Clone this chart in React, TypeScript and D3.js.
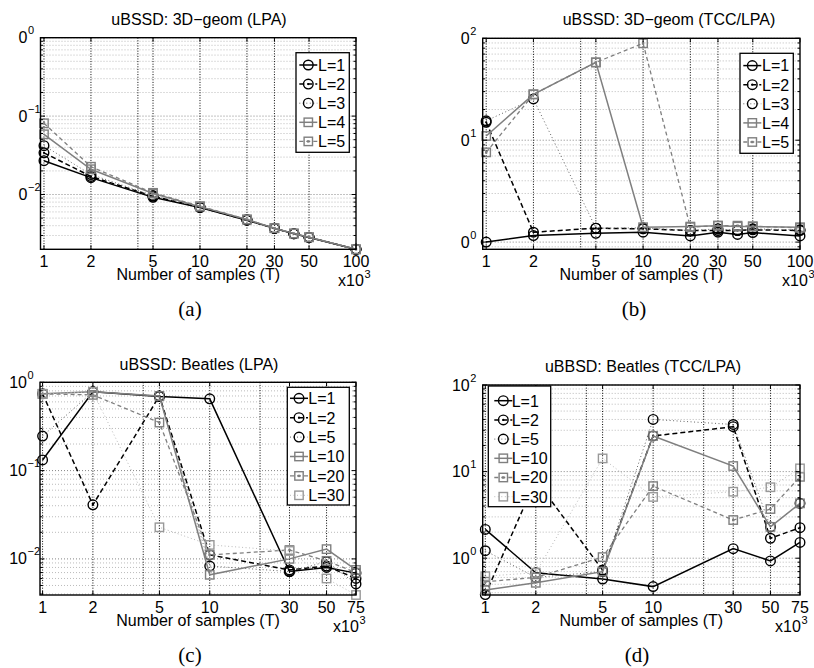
import * as d3 from 'd3';

// number of samples, in thousands
const geomSamples = [1, 2, 5, 10, 20, 30, 40, 50, 100];
const beatlesSamples = [1, 2, 5, 10, 30, 50, 75];

const geomSeries = ['L=1', 'L=2', 'L=3', 'L=4', 'L=5'];
const beatlesSeries = ['L=1', 'L=2', 'L=5', 'L=10', 'L=20', 'L=30'];

const geomTickLabels = [1, 2, 5, 10, 20, 30, 50, 100];
const beatlesTickLabels = [1, 2, 5, 10, 30, 50, 75];
const geomGridAt = [1, 2, 4, 5, 10, 20, 30, 50];
const beatlesGridAt = [1, 2, 4, 5, 10, 20, 30, 50];

// (a) uBSSD 3D-geom, LPA
const geomLpa = [
  [0.027, 0.0164, 0.0092, 0.0068, 0.0047, 0.0037, 0.00315, 0.00283, 0.002],
  [0.034, 0.017, 0.0095, 0.0069, 0.0047, 0.0037, 0.00316, 0.00284, 0.002],
  [0.042, 0.018, 0.0097, 0.0069, 0.0048, 0.0037, 0.00316, 0.00284, 0.002],
  [0.0586, 0.021, 0.0103, 0.007, 0.0048, 0.00372, 0.00318, 0.00285, 0.002],
  [0.081, 0.0226, 0.0105, 0.0071, 0.0048, 0.00372, 0.00318, 0.00285, 0.002],
];

// (b) uBSSD 3D-geom, TCC/LPA
const geomTcc = [
  [1.0, 1.16, 1.22, 1.25, 1.15, 1.25, 1.19, 1.24, 1.15],
  [15, 1.25, 1.37, 1.35, 1.3, 1.3, 1.3, 1.32, 1.3],
  [15.5, 25.4, 1.37, 1.38, 1.3, 1.35, 1.3, 1.35, 1.32],
  [11, 28.2, 58, 1.4, 1.42, 1.45, 1.42, 1.42, 1.4],
  [7.6, 28.2, 58, 89.3, 1.4, 1.45, 1.45, 1.43, 1.38],
];

// (c) uBSSD Beatles, LPA
const beatlesLpa = [
  [0.132, 0.78, 0.69, 0.65, 0.0072, 0.008, 0.0069],
  [0.74, 0.041, 0.7, 0.0111, 0.0075, 0.0083, 0.006],
  [0.246, 0.78, 0.7, 0.0083, 0.0072, 0.0093, 0.0052],
  [0.74, 0.78, 0.7, 0.0066, 0.01, 0.0129, 0.0075],
  [0.74, 0.72, 0.35, 0.0111, 0.0126, 0.0095, 0.007],
  [0.74, 0.78, 0.0228, 0.0144, 0.0123, 0.006, 0.0039],
];

// (d) uBBSD Beatles, TCC/LPA
const beatlesTcc = [
  [2.15, 0.68, 0.575, 0.47, 1.29, 0.93, 1.52],
  [0.38, 8, 0.73, 25.8, 33, 1.7, 2.25],
  [1.22, 0.6, 0.7, 40, 35, 2.3, 4.3],
  [0.43, 0.52, 0.7, 25.8, 11.6, 2.3, 4.3],
  [0.535, 0.6, 1.03, 6.8, 2.76, 3.7, 8.7],
  [0.62, 0.68, 14.2, 5.1, 5.86, 6.6, 10.9],
];

const GRAY = '#7f7f7f';
const sBlack = { color: '#000', dash: null, width: 1.5, marker: 'o', mColor: '#000' };
const sBlackDash = { color: '#000', dash: '5,3', width: 1.5, marker: 'od', mColor: '#000' };
const sBlackDot = { color: '#666', dash: '1,2.5', width: 1, marker: 'o', mColor: '#000' };
const sGray = { color: GRAY, dash: null, width: 1.5, marker: 's', mColor: GRAY };
const sGrayDash = { color: GRAY, dash: '4,3', width: 1.3, marker: 'sd', mColor: GRAY };
const sGrayDot = { color: '#bbb', dash: '1,2.5', width: 1, marker: 's', mColor: '#999' };

const geomStyles = [sBlack, sBlackDash, sBlackDot, sGray, sGrayDash];
const beatlesStyles = [sBlack, sBlackDash, sBlackDot, sGray, sGrayDash, sGrayDot];

const SANS = '"Liberation Sans", Arial, Helvetica, sans-serif';
const SERIF = '"Liberation Serif", "Times New Roman", serif';
const FS = 16;

function Marker({ kind, cx, cy, color }) {
  if (kind === 'o' || kind === 'od') {
    return (
      <g>
        <circle cx={cx} cy={cy} r={4.8} fill="none" stroke={color} strokeWidth={1.4} />
        {kind === 'od' && <circle cx={cx} cy={cy} r={1.1} fill={color} />}
      </g>
    );
  }
  return (
    <g>
      <rect x={cx - 4.2} y={cy - 4.2} width={8.4} height={8.4} fill="none" stroke={color} strokeWidth={1.4} />
      {kind === 'sd' && <rect x={cx - 1.2} y={cy - 1.2} width={2.4} height={2.4} fill={color} />}
    </g>
  );
}

function Panel(p) {
  const { frame, xDomain, yDomain, samples, values, names, styles } = p;
  const x = d3.scaleLog().domain(xDomain).range([frame.left, frame.right]);
  const y = d3.scaleLog().domain(yDomain).range([frame.bottom, frame.top]);
  const line = d3.line().x((d, i) => x(samples[i])).y(d => y(d));

  const eLo = Math.floor(Math.log10(yDomain[0]));
  const eHi = Math.floor(Math.log10(yDomain[1]) + 1e-9);
  const decades = d3.range(eLo, eHi + 1).map(e => Math.pow(10, e)).filter(v => v >= yDomain[0] * 0.999 && v <= yDomain[1] * 1.001);
  const minors = [];
  for (let e = eLo; e < eHi; e++) {
    for (let k = 2; k <= 9; k++) {
      const v = k * Math.pow(10, e);
      if (v > yDomain[0] && v < yDomain[1]) minors.push(v);
    }
  }
  const lg = p.legend;

  return (
    <g>
      <rect x={frame.left} y={frame.top} width={frame.right - frame.left} height={frame.bottom - frame.top} fill="#fff" />
      {minors.map(v => (
        <line key={'m' + v} x1={frame.left} x2={frame.right} y1={y(v)} y2={y(v)} stroke="#aaa" strokeWidth={0.8} strokeDasharray="1,2" />
      ))}
      {decades.map(v => (
        <line key={'d' + v} x1={frame.left} x2={frame.right} y1={y(v)} y2={y(v)} stroke="#777" strokeWidth={0.9} strokeDasharray="1,2" />
      ))}
      {p.gridAt.map(v => (
        <line key={'g' + v} x1={x(v)} x2={x(v)} y1={frame.top} y2={frame.bottom} stroke="#000" strokeWidth={1} strokeDasharray="1,1.6" />
      ))}

      {values.map((vals, si) => {
        const st = styles[si];
        return (
          <g key={'s' + si}>
            <path d={line(vals)} fill="none" stroke={st.color} strokeWidth={st.width} strokeDasharray={st.dash || undefined} />
            {vals.map((v, i) => (
              <Marker key={i} kind={st.marker} cx={x(samples[i])} cy={y(v)} color={st.mColor} />
            ))}
          </g>
        );
      })}

      <rect x={frame.left} y={frame.top} width={frame.right - frame.left} height={frame.bottom - frame.top} fill="none" stroke="#000" strokeWidth={1.4} />

      {p.tickLabels.map(v => (
        <g key={'xt' + v}>
          <line x1={x(v)} x2={x(v)} y1={frame.bottom} y2={frame.bottom - 4} stroke="#000" />
          <line x1={x(v)} x2={x(v)} y1={frame.top} y2={frame.top + 4} stroke="#000" />
          <text x={x(v)} y={frame.bottom + 17.5} textAnchor="middle" fontFamily={SANS} fontSize={FS}>{v}</text>
        </g>
      ))}
      {minors.map(v => (
        <g key={'yt' + v}>
          <line x1={frame.left} x2={frame.left + 2.5} y1={y(v)} y2={y(v)} stroke="#000" />
          <line x1={frame.right} x2={frame.right - 2.5} y1={y(v)} y2={y(v)} stroke="#000" />
        </g>
      ))}
      {decades.map(v => {
        const e = Math.round(Math.log10(v));
        return (
          <g key={'yl' + v}>
            <line x1={frame.left} x2={frame.left + 4.5} y1={y(v)} y2={y(v)} stroke="#000" />
            <line x1={frame.right} x2={frame.right - 4.5} y1={y(v)} y2={y(v)} stroke="#000" />
            <text x={frame.left - 13} y={y(v) + 5.5} textAnchor="end" fontFamily={SANS} fontSize={FS}>{p.yBase}</text>
            <text x={frame.left - 12.5} y={y(v) - 3.5} fontFamily={SANS} fontSize={11}>{e < 0 ? '\u2212' + -e : String(e)}</text>
          </g>
        );
      })}

      <text x={p.titleX} y={p.titleY} textAnchor="middle" fontFamily={SANS} fontSize={FS}>{p.title}</text>
      <text x={(frame.left + frame.right) / 2} y={frame.bottom + 31} textAnchor="middle" fontFamily={SANS} fontSize={FS}>Number of samples (T)</text>
      <text x={frame.right + p.expShift} y={frame.bottom + 37} fontFamily={SANS} fontSize={FS}>x10</text>
      <text x={frame.right + p.expShift + 26.5} y={frame.bottom + 29} fontFamily={SANS} fontSize={11}>3</text>
      <text x={p.captionX} y={frame.bottom + 67} textAnchor="middle" fontFamily={SERIF} fontSize={21}>{p.caption}</text>

      <g>
        <rect x={lg.x} y={lg.y} width={lg.w} height={lg.h} fill="#fff" stroke="#000" strokeWidth={1.3} />
        {names.map((n, i) => {
          const st = styles[i];
          const cy = lg.y + lg.first + i * lg.step;
          return (
            <g key={n}>
              <line x1={lg.x + lg.mx - 9} x2={lg.x + lg.mx + 9} y1={cy} y2={cy} stroke={st.color} strokeWidth={st.width} strokeDasharray={st.dash || undefined} />
              <Marker kind={st.marker} cx={lg.x + lg.mx} cy={cy} color={st.mColor} />
              <text x={lg.x + lg.tx} y={cy + 5.8} fontFamily={SANS} fontSize={FS}>{n}</text>
            </g>
          );
        })}
      </g>
    </g>
  );
}

export default function App() {
  return (
    <svg width={814} height={668} style={{ position: 'absolute', left: 0, top: 0, background: '#fff' }}>
      <Panel
        frame={{ left: 40.5, top: 37.7, right: 356, bottom: 249.3 }}
        xDomain={[0.95, 100]} yDomain={[0.002, 1]}
        samples={geomSamples} values={geomLpa} names={geomSeries} styles={geomStyles}
        tickLabels={geomTickLabels} gridAt={geomGridAt} yBase="0"
        title="uBSSD: 3D−geom (LPA)" titleX={199} titleY={24.5}
        caption="(a)" captionX={190} expShift={-18}
        legend={{ x: 296, y: 52.7, w: 53.3, h: 99.6, first: 12.3, step: 19.1, mx: 12.3, tx: 22 }}
      />
      <Panel
        frame={{ left: 482.7, top: 38.3, right: 800, bottom: 249.3 }}
        xDomain={[0.95, 100]} yDomain={[0.85, 100]}
        samples={geomSamples} values={geomTcc} names={geomSeries} styles={geomStyles}
        tickLabels={geomTickLabels} gridAt={geomGridAt} yBase="0"
        title="uBSSD: 3D−geom (TCC/LPA)" titleX={669} titleY={25}
        caption="(b)" captionX={634} expShift={-18}
        legend={{ x: 740, y: 53.3, w: 53.3, h: 100, first: 12.3, step: 19.1, mx: 12.3, tx: 22 }}
      />
      <Panel
        frame={{ left: 40, top: 382.3, right: 356, bottom: 595 }}
        xDomain={[0.965, 75]} yDomain={[0.0039, 1]}
        samples={beatlesSamples} values={beatlesLpa} names={beatlesSeries} styles={beatlesStyles}
        tickLabels={beatlesTickLabels} gridAt={beatlesGridAt} yBase="10"
        title="uBSSD: Beatles (LPA)" titleX={199} titleY={370}
        caption="(c)" captionX={190} expShift={-23}
        legend={{ x: 287.3, y: 387.3, w: 62, h: 117.7, first: 11, step: 19.4, mx: 11.7, tx: 21 }}
      />
      <Panel
        frame={{ left: 482.7, top: 385, right: 800, bottom: 595 }}
        xDomain={[0.965, 75]} yDomain={[0.376, 100]}
        samples={beatlesSamples} values={beatlesTcc} names={beatlesSeries} styles={beatlesStyles}
        tickLabels={beatlesTickLabels} gridAt={beatlesGridAt} yBase="10"
        title="uBBSD: Beatles (TCC/LPA)" titleX={643} titleY={371.7}
        caption="(d)" captionX={637} expShift={-25}
        legend={{ x: 488.3, y: 386, w: 62.4, h: 120.7, first: 14.7, step: 19.2, mx: 15, tx: 23.4 }}
      />
    </svg>
  );
}
